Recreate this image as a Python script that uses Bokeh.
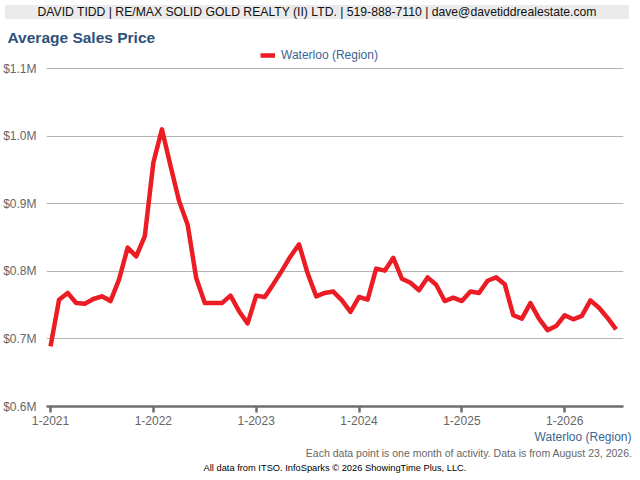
from bokeh.plotting import figure
from bokeh.models import Range1d, FixedTicker, Title, Div
from bokeh.layouts import column
from bokeh.embed import file_html
from bokeh.resources import INLINE

# ---- data ----
months = list(range(67))  # Jan 2021 .. Jul 2026
avg_price = [
    689000, 758000, 768000, 753000, 752000, 759000, 763000, 756000, 788000, 835000, 822000, 852000,
    961000, 1010000, 956000, 904000, 869000, 790000, 753000, 753000, 753000, 764000, 741000, 723000,
    764000, 762000, 781000, 801000, 822000, 840000, 797000, 763000, 768000, 770000, 757000, 740000,
    762000, 758000, 804000, 801000, 820000, 789000, 783000, 772000, 791000, 780000, 756000, 761000,
    756000, 770000, 768000, 786000, 791000, 781000, 735000, 730000, 753000, 730000, 713000, 719000,
    735000, 729000, 734000, 757000, 746000, 731000, 714000,
]
series_name = "Waterloo (Region)"
x_ticks = [0, 12, 24, 36, 48, 60]
x_tick_labels = ["1-2021", "1-2022", "1-2023", "1-2024", "1-2025", "1-2026"]
y_ticks = [600000, 700000, 800000, 900000, 1000000, 1100000]
y_tick_labels = ["$0.6M", "$0.7M", "$0.8M", "$0.9M", "$1.0M", "$1.1M"]

FONT = "Liberation Sans"
RED = "#ec1c24"
GRAY = "#666666"
BLUE = "#3d6592"

header = Div(text="DAVID TIDD | RE/MAX SOLID GOLD REALTY (II) LTD. | 519-888-7110 | dave@davetiddrealestate.com",
             width=624, height=14,
             styles={"background-color": "#ebebeb", "text-align": "center",
                     "font-family": FONT, "font-size": "12.2px", "line-height": "14px",
                     "color": "#111111", "overflow": "hidden", "white-space": "nowrap"})

p = figure(frame_width=577, frame_height=358, output_backend="svg", toolbar_location=None,
           x_range=Range1d(-0.47, 66.86), y_range=Range1d(600000, 1129600),
           min_border_left=37, min_border_right=10, min_border_top=0, min_border_bottom=66,
           outline_line_color=None, background_fill_color="white", border_fill_color="white")
p.title = None

r = p.line(months, avg_price, line_color=RED, line_width=4.5, line_join="round",
           legend_label=series_name)

# x axis
xa = p.xaxis[0]
xa.ticker = FixedTicker(ticks=x_ticks)
xa.major_label_overrides = {t: l for t, l in zip(x_ticks, x_tick_labels)}
xa.axis_line_color = "#6e6e6e"
xa.axis_line_width = 2.5
xa.major_tick_line_color = "#6e6e6e"
xa.major_tick_line_width = 2.5
xa.major_tick_out = 6
xa.major_tick_in = 0
xa.minor_tick_line_color = None
xa.major_label_text_font = FONT
xa.major_label_text_font_size = "12px"
xa.major_label_text_color = GRAY
xa.major_label_standoff = 3

# y axis
ya = p.yaxis[0]
ya.ticker = FixedTicker(ticks=y_ticks)
ya.major_label_overrides = {t: l for t, l in zip(y_ticks, y_tick_labels)}
ya.axis_line_color = None
ya.major_tick_line_color = None
ya.minor_tick_line_color = None
ya.major_label_text_font = FONT
ya.major_label_text_font_size = "12px"
ya.major_label_text_color = GRAY
ya.major_label_standoff = 4

p.xgrid.grid_line_color = None
p.ygrid.grid_line_color = "#b4b4b4"
p.ygrid.grid_line_width = 1

# legend inside the (extended) frame, above the $1.1M line
lg = p.legend[0]
lg.orientation = "horizontal"
lg.location = (214, 342)
lg.margin = 0
lg.padding = 0
lg.label_height = 18
lg.label_text_font = FONT
lg.label_text_font_size = "12px"
lg.label_text_color = BLUE
lg.label_standoff = 6
lg.glyph_width = 15
lg.glyph_height = 10
lg.border_line_color = None
lg.background_fill_alpha = 0

# title
p.add_layout(Title(text="Average Sales Price", align="left", offset=-39,
                   text_font=FONT, text_font_size="15.5px", text_font_style="bold",
                   text_color="#2c5179", standoff=5), "above")

# footer texts
p.add_layout(Title(text=series_name, align="right", offset=-8,
                   text_font=FONT, text_font_size="12px", text_font_style="normal",
                   text_color=BLUE, standoff=0), "below")
p.add_layout(Title(text="Each data point is one month of activity. Data is from August 23, 2026.",
                   align="right", offset=-9,
                   text_font=FONT, text_font_size="10.5px", text_font_style="normal",
                   text_color="#666666", standoff=2), "below")
p.add_layout(Title(text="All data from ITSO. InfoSparks \u00a9 2026 ShowingTime Plus, LLC.",
                   align="center", offset=-20,
                   text_font=FONT, text_font_size="9.3px", text_font_style="normal",
                   text_color="#000000", standoff=2), "below")

layout = column(header, p, spacing=0)
open("out.html", "w").write(file_html(layout, INLINE))
